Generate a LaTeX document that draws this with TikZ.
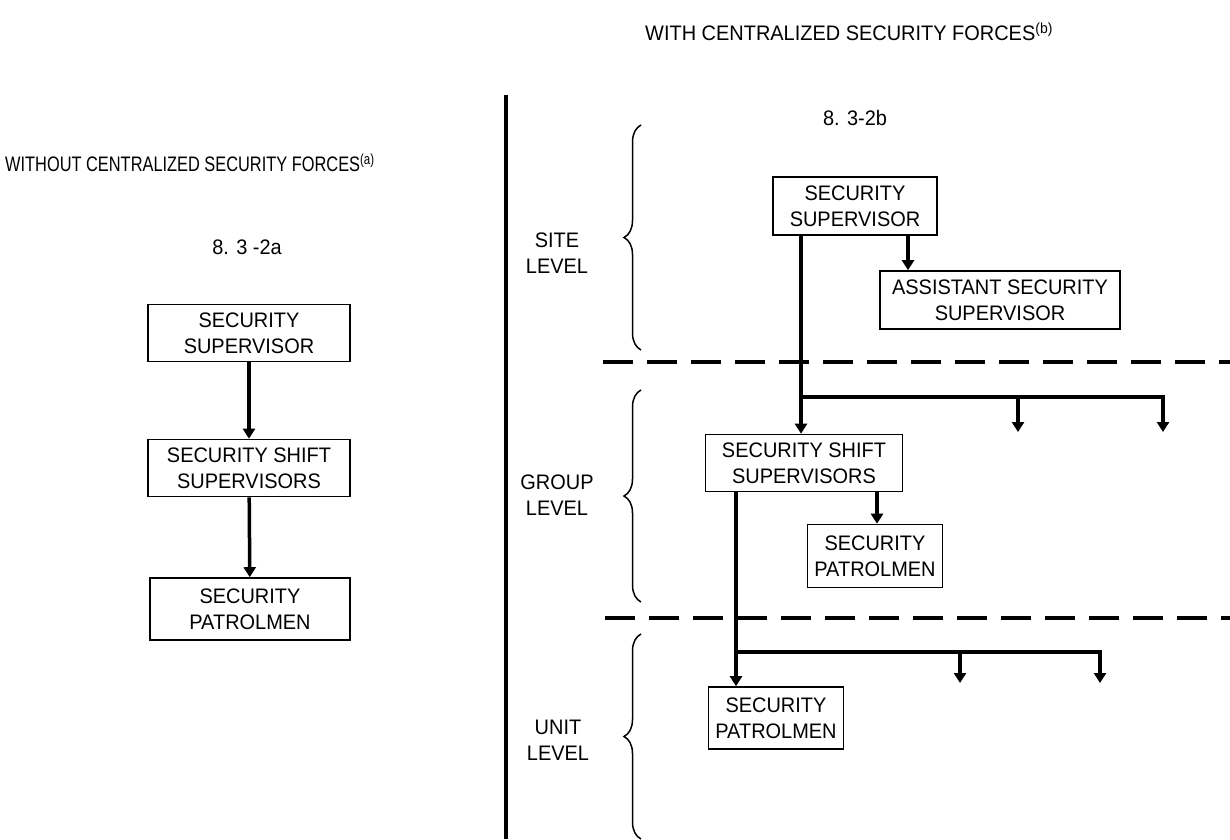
\documentclass[tikz,border=0pt]{standalone}
\usepackage{fontspec}
\setmainfont{Liberation Sans}[FakeStretch=0.95]
\newfontfamily\narrowfont{Liberation Sans}[FakeStretch=0.78]
\usetikzlibrary{arrows.meta,positioning,calc,decorations.pathreplacing}

\tikzset{
  orgbox/.style={draw, line width=1.6pt, align=center, inner sep=0pt,
    font=\fontsize{21}{26}\selectfont},
  lbl/.style={align=center, inner sep=0pt, font=\fontsize{21}{26}\selectfont},
  chain/.style={line width=3.5pt, -{Triangle[width=12pt,length=10pt]}},
  bar/.style={line width=3.5pt},
  levelcut/.style={line width=3.5pt, dash pattern=on 30pt off 14pt},
  levelbrace/.style={line width=1.5pt, decorate, decoration={brace, amplitude=17pt}}
}

\begin{document}
\begin{tikzpicture}[x=1pt,y=-1pt]
    \useasboundingbox (0,0) rectangle (1230,839);

    % Without centralized forces
    \node[lbl, anchor=west, font=\fontsize{21}{26}\narrowfont] (titleA) at (5,163) {WITHOUT CENTRALIZED SECURITY FORCES\textsuperscript{(a)}};
    \node[lbl] (figA) at (247,247) {8. 3 -2a};
    \node[orgbox, minimum width=202pt, minimum height=57pt] (supA) at (249,333) {SECURITY\\SUPERVISOR};
    \node[orgbox, minimum width=202pt, minimum height=57pt] (shiftA) at (249,468) {SECURITY SHIFT\\SUPERVISORS};
    \node[orgbox, minimum width=200pt, minimum height=62pt] (patrolA) at (250,609) {SECURITY\\PATROLMEN};
    \draw[chain] (supA) -- (shiftA);
    \draw[chain] (shiftA) -- (patrolA);

    % Divider
    \draw[line width=4pt] (506,95) -- (506,839);

    % With centralized forces
    \node[lbl, anchor=west] (titleB) at (645,32) {WITH CENTRALIZED SECURITY FORCES\textsuperscript{(b)}};
    \node[lbl] (figB) at (855,118) {8. 3-2b};

    % Levels
    \draw[levelbrace] (641,350) -- (641,125);
    \draw[levelbrace] (641,602) -- (641,390);
    \draw[levelbrace] (641,839) -- (641,634);
    \node[lbl] (siteL) at (557,253) {SITE\\LEVEL};
    \node[lbl] (groupL) at (557,495) {GROUP\\LEVEL};
    \node[lbl] (unitL) at (558,740) {UNIT\\LEVEL};
    \draw[levelcut] (603,362) -- (1230,362);
    \draw[levelcut] (605,618) -- (1230,618);

    % Boxes
    \node[orgbox, minimum width=164pt, minimum height=58pt] (supB) at (855,206) {SECURITY\\SUPERVISOR};
    \node[orgbox, minimum width=240pt, minimum height=58pt] (asstB) at (1000,300) {ASSISTANT SECURITY\\SUPERVISOR};
    \node[orgbox, minimum width=197pt, minimum height=57pt] (shiftB) at (804,463) {SECURITY SHIFT\\SUPERVISORS};
    \node[orgbox, minimum width=135pt, minimum height=63pt] (patrolG) at (875,556) {SECURITY\\PATROLMEN};
    \node[orgbox, minimum width=135pt, minimum height=62pt] (patrolU) at (776,718) {SECURITY\\PATROLMEN};

    % Site to group
    \coordinate (busS) at (801,397);
    \coordinate (tipS1) at (1018,432);
    \coordinate (tipS2) at (1163,432);
    \draw[chain] (supB.south -| busS) -- (shiftB.north -| busS);
    \draw[chain] ([xshift=53pt]supB.south) -- ([xshift=53pt]supB.south |- asstB.north);
    \draw[bar] (busS) -- (busS -| tipS1);
    \draw[chain] (busS -| tipS1) -- (busS -| tipS2) -- (tipS2);
    \draw[chain] (busS -| tipS1) -- (tipS1);

    % Group to unit
    \coordinate (busG) at (736,652);
    \coordinate (tipG1) at (960,683);
    \coordinate (tipG2) at (1100,683);
    \draw[chain] (shiftB.south -| busG) -- (patrolU.north -| busG);
    \draw[chain] ([xshift=73pt]shiftB.south) -- ([xshift=73pt]shiftB.south |- patrolG.north);
    \draw[bar] (busG) -- (busG -| tipG1);
    \draw[chain] (busG -| tipG1) -- (busG -| tipG2) -- (tipG2);
    \draw[chain] (busG -| tipG1) -- (tipG1);
\end{tikzpicture}
\end{document}
